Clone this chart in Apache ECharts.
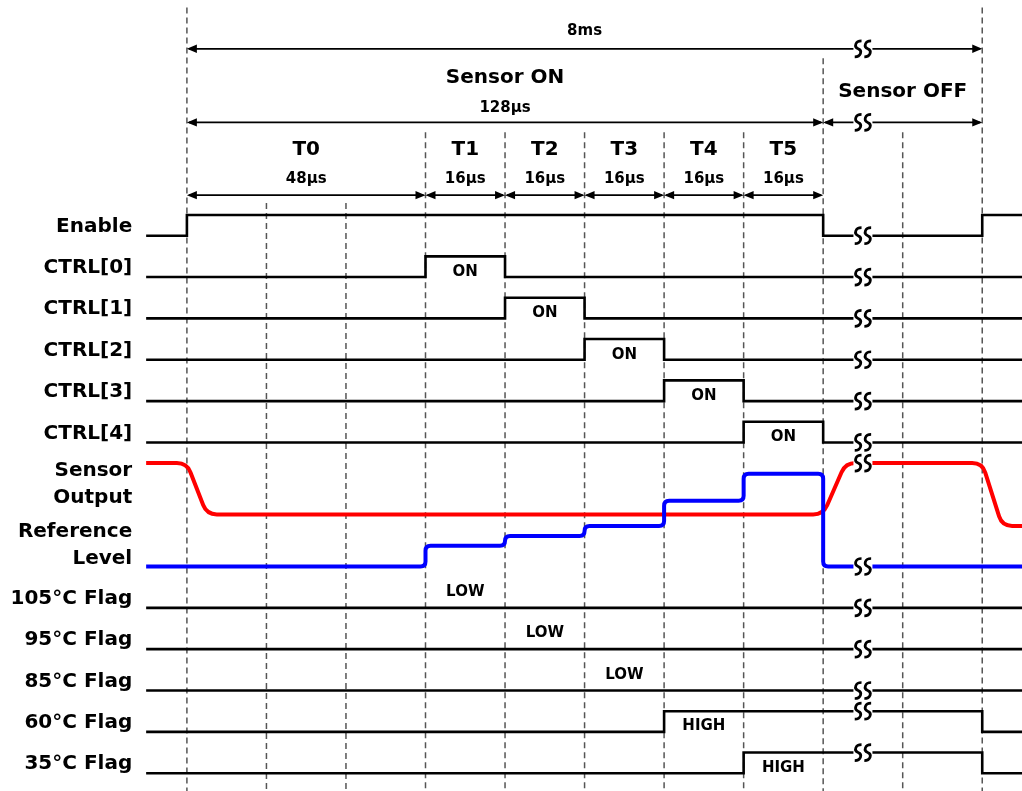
<!DOCTYPE html>
<html>
<head>
<meta charset="utf-8">
<script src="https://cdn.jsdelivr.net/npm/echarts@6/dist/echarts.min.js"></script>
<style>
  html, body { margin: 0; padding: 0; background: #fff; }
  #chart { width: 1022px; height: 791px; }
</style>
</head>
<body>
<div id="chart"></div>
<script>
// Time is in µs. The Sensor OFF span (really up to 8ms) is drawn compressed
// after the axis break.
const T_START = -8.2;
const T_END = 168;

const phaseNames = ['T0', 'T1', 'T2', 'T3', 'T4', 'T5'];
const phaseDurations = ['48µs', '16µs', '16µs', '16µs', '16µs', '16µs'];
const phaseEdges = [0, 48, 64, 80, 96, 112, 128];
const frameEnd = 160;     // end of the 8ms frame
const breakAt = 136;      // where the time axis is broken
const gridTimes = [0, 16, 32, 48, 64, 80, 96, 112, 128, 144, 160];

// Digital signals: [time, level] change points, level 0 = low, 1 = high
const controlNames = ['Enable', 'CTRL[0]', 'CTRL[1]', 'CTRL[2]', 'CTRL[3]', 'CTRL[4]'];
const enableWave = [[T_START, 0], [0, 1], [128, 0], [160, 1]];
const ctrl0Wave = [[T_START, 0], [48, 1], [64, 0]];
const ctrl1Wave = [[T_START, 0], [64, 1], [80, 0]];
const ctrl2Wave = [[T_START, 0], [80, 1], [96, 0]];
const ctrl3Wave = [[T_START, 0], [96, 1], [112, 0]];
const ctrl4Wave = [[T_START, 0], [112, 1], [128, 0]];
const ctrlPulseText = ['', 'ON', 'ON', 'ON', 'ON', 'ON'];

const flagNames = ['105°C Flag', '95°C Flag', '85°C Flag', '60°C Flag', '35°C Flag'];
const flag105Wave = [[T_START, 0]];
const flag95Wave = [[T_START, 0]];
const flag85Wave = [[T_START, 0]];
const flag60Wave = [[T_START, 0], [96, 1], [160, 0]];
const flag35Wave = [[T_START, 0], [112, 1], [160, 0]];
const flagResults = ['LOW', 'LOW', 'LOW', 'HIGH', 'HIGH'];
const flagResultTimes = [56, 72, 88, 104, 120];

// Analog signals, in units of the vertical (row) scale
const sensorOutput = [[T_START, 7.5], [0, 7.5], [4, 6.26], [128, 6.26], [132.5, 7.5],
                      [160, 7.5], [164, 5.98], [T_END, 5.98]];
const referenceSteps = [[T_START, 5.0], [48, 5.5], [64, 5.74], [80, 5.98], [96, 6.59],
                        [112, 7.24], [128, 5.0]];

// ---- layout ----
const X_MIN = -37.6, X_MAX = 168;
const Y_MIN = -0.43, Y_MAX = 18.7;
const AMP = 0.5;
const LABEL_T = -11.0;
const FONT = '"DejaVu Sans", "Noto Sans", sans-serif';

const controlWaves = [enableWave, ctrl0Wave, ctrl1Wave, ctrl2Wave, ctrl3Wave, ctrl4Wave];
const flagWaves = [flag105Wave, flag95Wave, flag85Wave, flag60Wave, flag35Wave];
const controlBase = i => 13 - i;
const flagBase = i => 4 - i;

function stepVertices(wave, base, amp, tEnd) {
  const pts = [];
  wave.forEach(([t, lv], i) => {
    const y = base + lv * amp;
    if (i > 0) pts.push([t, pts[pts.length - 1][1]]);
    pts.push([t, y]);
  });
  pts.push([tEnd, pts[pts.length - 1][1]]);
  return pts;
}

function valueAt(pts, t) {
  for (let i = 1; i < pts.length; i++) {
    const [t0, v0] = pts[i - 1], [t1, v1] = pts[i];
    if (t >= t0 && t <= t1 && t1 > t0) return v0 + (v1 - v0) * (t - t0) / (t1 - t0);
  }
  return pts[pts.length - 1][1];
}

function roundedPath(px, r) {
  let d = 'M' + px[0][0] + ',' + px[0][1];
  for (let i = 1; i < px.length - 1; i++) {
    const [x0, y0] = px[i - 1], [x1, y1] = px[i], [x2, y2] = px[i + 1];
    const l1 = Math.hypot(x1 - x0, y1 - y0), l2 = Math.hypot(x2 - x1, y2 - y1);
    const rr = Math.min(r, l1 / 2, l2 / 2);
    if (!(rr > 0.01)) { d += ' L' + x1 + ',' + y1; continue; }
    const ax = x1 - (x1 - x0) / l1 * rr, ay = y1 - (y1 - y0) / l1 * rr;
    const bx = x1 + (x2 - x1) / l2 * rr, by = y1 + (y2 - y1) / l2 * rr;
    d += ' L' + ax + ',' + ay + ' Q' + x1 + ',' + y1 + ' ' + bx + ',' + by;
  }
  const last = px[px.length - 1];
  d += ' L' + last[0] + ',' + last[1];
  return d;
}

function waveSeries(pts, color, width, radius) {
  return {
    type: 'custom', coordinateSystem: 'cartesian2d', silent: true, z: 3,
    data: pts,
    renderItem(params, api) {
      if (params.dataIndex !== 0) return null;
      const px = pts.map(p => api.coord(p));
      return {
        type: 'path',
        shape: { pathData: roundedPath(px, radius) },
        style: { fill: 'none', stroke: color, lineWidth: width, lineJoin: 'miter', lineCap: 'butt' }
      };
    }
  };
}

// all drawn traces
const traces = [];
controlWaves.forEach((w, i) => traces.push({ pts: stepVertices(w, controlBase(i), AMP, T_END), color: '#000', width: 2.6, r: 0 }));
flagWaves.forEach((w, i) => traces.push({ pts: stepVertices(w, flagBase(i), AMP, T_END), color: '#000', width: 2.6, r: 0 }));
traces.push({ pts: sensorOutput, color: '#ff0000', width: 4, r: 10 });
traces.push({ pts: stepVertices(referenceSteps, 0, 1, T_END), color: '#0000ff', width: 4, r: 5 });

// arrows: [from, to, level]
const ARROW_V = { frame: 17.52, sensor: 15.74, phase: 13.98 };
const arrows = [[0, frameEnd, ARROW_V.frame], [0, 128, ARROW_V.sensor], [128, frameEnd, ARROW_V.sensor]];
for (let i = 0; i < phaseNames.length; i++) arrows.push([phaseEdges[i], phaseEdges[i + 1], ARROW_V.phase]);

// axis-break marks on every trace and on the long arrows
const breaks = traces.map(tr => [breakAt, valueAt(tr.pts, breakAt)]);
breaks.push([breakAt, ARROW_V.frame], [breakAt, ARROW_V.sensor]);

// dashed time markers: [time, top level]
const dashTop = t => (t === 0 || t === frameEnd) ? 18.52 : t === 128 ? 17.29 : (t === 16 || t === 32) ? 13.79 : 15.5;
const dashes = gridTimes.map(t => [t, dashTop(t)]);

// texts
const texts = [];
controlNames.forEach((n, i) => texts.push({ t: LABEL_T, v: controlBase(i) + 0.22, text: n, size: 20, align: 'right' }));
flagNames.forEach((n, i) => texts.push({ t: LABEL_T, v: flagBase(i) + 0.22, text: n, size: 20, align: 'right' }));
[['Sensor', 7.32], ['Output', 6.67], ['Reference', 5.84], ['Level', 5.19]].forEach(([n, v]) =>
  texts.push({ t: LABEL_T, v, text: n, size: 20, align: 'right' }));
ctrlPulseText.forEach((s, i) => {
  if (!s) return;
  const w = controlWaves[i];
  texts.push({ t: (w[1][0] + w[2][0]) / 2, v: controlBase(i) + 0.12, text: s, size: 15, align: 'center' });
});
flagResults.forEach((s, i) => texts.push({
  t: flagResultTimes[i], v: flagBase(i) + (s === 'HIGH' ? 0.13 : 0.38), text: s, size: 15, align: 'center'
}));
texts.push({ t: frameEnd / 2, v: 17.95, text: '8ms', size: 15, align: 'center' });
texts.push({ t: 64, v: 16.81, text: 'Sensor ON', size: 20, align: 'center' });
texts.push({ t: 64, v: 16.09, text: '128µs', size: 15, align: 'center' });
texts.push({ t: (128 + frameEnd) / 2, v: 16.49, text: 'Sensor OFF', size: 20, align: 'center' });
phaseNames.forEach((n, i) => {
  const mid = (phaseEdges[i] + phaseEdges[i + 1]) / 2;
  texts.push({ t: mid, v: 15.07, text: n, size: 20, align: 'center' });
  texts.push({ t: mid, v: 14.37, text: phaseDurations[i], size: 15, align: 'center' });
});

function sGlyph(gx, gy) {
  return 'M' + (gx + 3.4) + ',' + (gy - 8) +
    ' C' + (gx - 2.8) + ',' + (gy - 8) + ' ' + (gx - 4.6) + ',' + (gy - 1.8) + ' ' + gx + ',' + gy +
    ' C' + (gx + 4.6) + ',' + (gy + 1.8) + ' ' + (gx + 2.8) + ',' + (gy + 8) + ' ' + (gx - 3.4) + ',' + (gy + 8);
}

const series = [];
series.push({
  type: 'custom', coordinateSystem: 'cartesian2d', silent: true, z: 1,
  data: dashes,
  renderItem(params, api) {
    const a = api.coord([api.value(0), api.value(1)]);
    const b = api.coord([api.value(0), Y_MIN]);
    return {
      type: 'line', shape: { x1: a[0], y1: a[1], x2: b[0], y2: b[1] },
      style: { stroke: '#555', lineWidth: 1.5, lineDash: [6, 4] }
    };
  }
});
traces.forEach(tr => series.push(waveSeries(tr.pts, tr.color, tr.width, tr.r)));
series.push({
  type: 'custom', coordinateSystem: 'cartesian2d', silent: true, z: 4,
  data: arrows,
  encode: { x: [0, 1], y: 2 },
  renderItem(params, api) {
    const a = api.coord([api.value(0), api.value(2)]);
    const b = api.coord([api.value(1), api.value(2)]);
    const L = 10, H = 4.2;
    return {
      type: 'group', children: [
        { type: 'line', shape: { x1: a[0] + 2, y1: a[1], x2: b[0] - 2, y2: b[1] }, style: { stroke: '#000', lineWidth: 1.7 } },
        { type: 'polygon', shape: { points: [[a[0], a[1]], [a[0] + L, a[1] - H], [a[0] + L, a[1] + H]] }, style: { fill: '#000' } },
        { type: 'polygon', shape: { points: [[b[0], b[1]], [b[0] - L, b[1] - H], [b[0] - L, b[1] + H]] }, style: { fill: '#000' } }
      ]
    };
  }
});
series.push({
  type: 'custom', coordinateSystem: 'cartesian2d', silent: true, z: 5,
  data: breaks,
  renderItem(params, api) {
    const c = api.coord([api.value(0), api.value(1)]);
    return {
      type: 'group', children: [
        { type: 'rect', shape: { x: c[0] - 9.5, y: c[1] - 4, width: 19, height: 8 }, style: { fill: '#fff' } },
        { type: 'path', shape: { pathData: sGlyph(c[0] - 4.8, c[1]) }, style: { fill: 'none', stroke: '#000', lineWidth: 2.7 } },
        { type: 'path', shape: { pathData: sGlyph(c[0] + 4.8, c[1]) }, style: { fill: 'none', stroke: '#000', lineWidth: 2.7 } }
      ]
    };
  }
});
series.push({
  type: 'custom', coordinateSystem: 'cartesian2d', silent: true, z: 6,
  data: texts.map(o => [o.t, o.v]),
  renderItem(params, api) {
    const o = texts[params.dataIndex];
    const p = api.coord([o.t, o.v]);
    return {
      type: 'text', x: p[0], y: p[1],
      style: {
        text: o.text, fill: '#000', fontSize: o.size, fontWeight: 'bold', fontFamily: FONT,
        align: o.align, verticalAlign: 'middle'
      }
    };
  }
});

const chart = echarts.init(document.getElementById('chart'));
chart.setOption({
  animation: false,
  backgroundColor: '#fff',
  grid: { left: 0, right: 0, top: 0, bottom: 0 },
  xAxis: { type: 'value', min: X_MIN, max: X_MAX, show: false },
  yAxis: { type: 'value', min: Y_MIN, max: Y_MAX, show: false },
  series
});
</script>
</body>
</html>
